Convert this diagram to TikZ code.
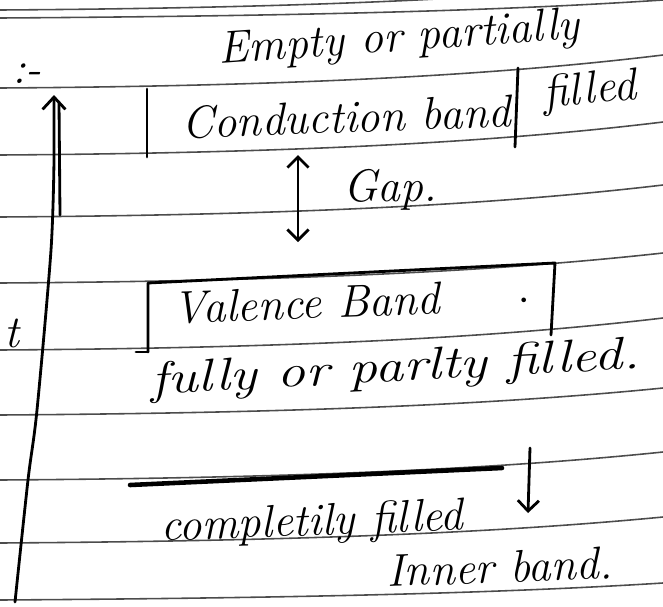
\documentclass[tikz,border=0pt]{standalone}
\usetikzlibrary{arrows.meta}
\begin{document}
\begin{tikzpicture}[x=0.02cm, y=-0.02cm]
    \tikzstyle{rule}=[black!70, line width=0.9pt]
    \tikzstyle{pen}=[black, line width=1.6pt, line cap=round, line join=round]
    \tikzstyle{hand}=[font=\fontsize{26}{30}\selectfont\itshape, inner sep=0pt]
    \useasboundingbox (0, 0) rectangle (663, 606);
    % ruled lines of the page
    \foreach \y/\d in {10/28, 18/18, 88/33, 155/33, 217/32, 283/30, 350/32, 415/27, 480/28, 543/26, 600/17}
        \draw [rule] (0, \y) .. controls (300, \y-2) and (500, \y-0.4*\d) .. (663, \y-\d);
    % energy axis
    \coordinate (axisfoot) at (15, 602);
    \coordinate (axistop) at (54, 95);
    \draw [pen, -{Straight Barb[length=7pt, width=13pt]}] plot [smooth] coordinates {(axisfoot) (28, 480) (37, 410) (51, 250) (54, 160)} -- (axistop);
    \draw [pen] (60, 215) -- (59, 102);
    \node [hand] (colon) at (27, 74) {:-};
    \node [hand, anchor=east] (cut) at (20, 333) {t};
    % conduction band
    \draw [pen] (147, 157) -- (147, 89);
    \draw [pen] (518, 68) -- (515, 147);
    \node [hand, rotate=4] (empty) at (399, 40) {Empty or partially};
    \node [hand, rotate=2] (cband) at (346, 117) {Conduction band};
    \node [hand, rotate=5] (cfill) at (590, 92) {filled};
    % gap
    \coordinate (gaptop) at (298, 155);
    \coordinate (gapbot) at (298, 242);
    \draw [pen, {Straight Barb[length=6pt, width=12pt]}-{Straight Barb[length=6pt, width=12pt]}] (gaptop) -- (gapbot);
    \node [hand, anchor=west] (gap) at (343, 190) {Gap.};
    % valence band
    \draw [pen] (148, 352) -- (148, 283) -- (555, 263) -- (551, 335);
    \draw [pen] (136, 352) -- (148, 352);
    \node [hand, rotate=2, anchor=west] (vband) at (173, 308) {Valence Band \quad\ $\cdot$};
    \node [hand, rotate=3, xscale=1.25] (vfill) at (395, 370) {fully or parlty filled.};
    % inner band
    \draw [pen, line width=2.6pt] (130, 485) -- (502, 468);
    \coordinate (downtop) at (530, 448);
    \coordinate (downbot) at (528, 513);
    \draw [pen, -{Straight Barb[length=6pt, width=12pt]}] (downtop) -- (downbot);
    \node [hand, rotate=2] (complete) at (312, 524) {completily filled};
    \node [hand, rotate=2] (inner) at (500, 567) {Inner band.};
\end{tikzpicture}
\end{document}
